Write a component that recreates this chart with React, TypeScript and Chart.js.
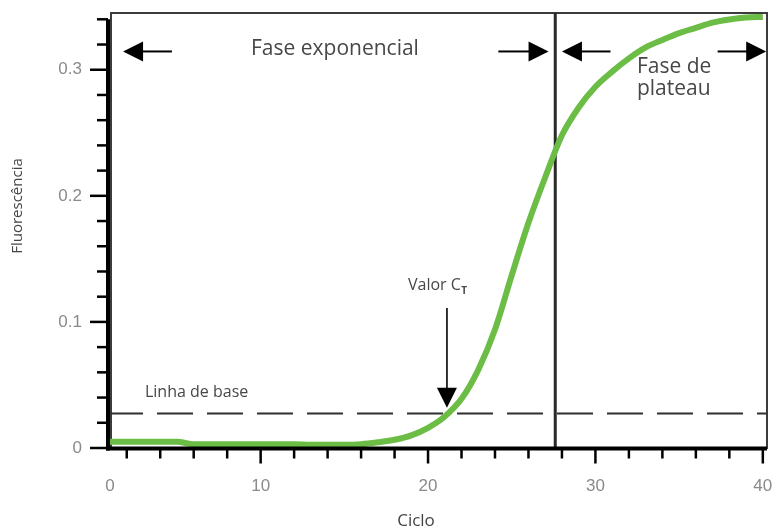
import React, { useEffect, useRef } from "react";
import { Chart, registerables } from "chart.js";

Chart.register(...registerables);

// ---- Data ----
const CYCLES = [
  1, 2, 3, 4, 5, 6, 7, 8, 9, 10, 11, 12, 13, 14, 15, 16, 17, 18, 19, 20,
  21, 22, 23, 24, 25, 26, 27, 28, 29, 30, 31, 32, 33, 34, 35, 36, 37, 38, 39, 40,
];
const FLUORESCENCE = [
  0.005, 0.005, 0.005, 0.005, 0.005, 0.003, 0.003, 0.003, 0.003, 0.003,
  0.003, 0.003, 0.0025, 0.0025, 0.0025, 0.003, 0.0045, 0.0065, 0.01, 0.016,
  0.025, 0.039, 0.062, 0.094, 0.137, 0.1786, 0.2147, 0.248, 0.27, 0.2865,
  0.2985, 0.309, 0.3177, 0.3236, 0.329, 0.3332, 0.3373, 0.3398, 0.3414, 0.3419,
];

const X_MIN = 1;
const X_MAX = 40.25;
const Y_MIN = 0;
const Y_MAX = 0.345;

const X_TICK_VALUES = [1, 10, 20, 30, 40];
const X_TICK_LABELS = ["0", "10", "20", "30", "40"];
const X_MAJOR_MARKS = [10, 20, 30, 40];
const X_MINOR_MARKS = [2, 4, 6, 8, 12, 14, 16, 18, 22, 24, 26, 28, 32, 34, 36, 38];

const Y_TICK_VALUES = [0, 0.1, 0.2, 0.3];
const Y_TICK_LABELS = ["0", "0.1", "0.2", "0.3"];
const Y_MAJOR_MARKS = [0, 0.1, 0.2, 0.3];
const Y_MINOR_MARKS = [0.02, 0.04, 0.06, 0.08, 0.12, 0.14, 0.16, 0.18, 0.22, 0.24, 0.26, 0.28, 0.32, 0.34];

const BASELINE = 0.028;
const PLATEAU_START = 27.6;
const CT_CYCLE = 21.13;
const CT_ARROW_FROM = 0.111;
const CT_ARROW_TO = 0.032;

const PHASE_ARROW_Y = 0.3145;
const EXP_LEFT_ARROW = [4.7, 1.78];
const EXP_RIGHT_ARROW = [24.2, 27.2];
const PLATEAU_LEFT_ARROW = [30.9, 28.0];
const PLATEAU_RIGHT_ARROW = [37.3, 40.2];

const LABEL_EXP = { text: "Fase exponencial", x: 14.44, y: 0.312 };
const LABEL_PLATEAU_1 = { text: "Fase de", x: 32.48, y: 0.2976 };
const LABEL_PLATEAU_2 = { text: "plateau", x: 32.48, y: 0.28 };
const LABEL_CT = { text: "Valor C", sub: "T", x: 18.8, y: 0.1254 };
const LABEL_BASE = { text: "Linha de base", x: 3.09, y: 0.0405 };

const X_TITLE = "Ciclo";
const Y_TITLE = "Fluorescência";

const TEXT_FONT = "'Open Sans', 'Noto Sans', sans-serif";
const TICK_FONT = "'Liberation Sans', Arial, sans-serif";

function drawArrow(ctx: CanvasRenderingContext2D, x1: number, y1: number, x2: number, y2: number, head = 20, half = 10, lw = 2) {
  const ang = Math.atan2(y2 - y1, x2 - x1);
  const c = Math.cos(ang);
  const s = Math.sin(ang);
  const bx = x2 - head * c;
  const by = y2 - head * s;
  ctx.beginPath();
  ctx.lineWidth = lw;
  ctx.strokeStyle = "#000";
  ctx.moveTo(x1, y1);
  ctx.lineTo(bx + 1 * c, by + 1 * s);
  ctx.stroke();
  ctx.beginPath();
  ctx.fillStyle = "#000";
  ctx.moveTo(x2, y2);
  ctx.lineTo(bx - half * s, by + half * c);
  ctx.lineTo(bx + half * s, by - half * c);
  ctx.closePath();
  ctx.fill();
}

const qpcrPlugin = {
  id: "qpcrAnnotations",
  beforeDatasetsDraw(chart: any) {
    const { ctx, chartArea: a, scales } = chart;
    const x = scales.x;
    const y = scales.y;
    ctx.save();
    // frame
    ctx.strokeStyle = "#3c3c3c";
    ctx.lineWidth = 2;
    ctx.strokeRect(a.left + 1, a.top, a.right - a.left - 1, a.bottom - a.top);
    // baseline (dashed)
    const by = Math.round(y.getPixelForValue(BASELINE)) + 0.5;
    ctx.strokeStyle = "#2f2f2f";
    ctx.lineWidth = 2;
    ctx.setLineDash([36, 14]);
    ctx.lineDashOffset = 3;
    ctx.beginPath();
    ctx.moveTo(a.left, by);
    ctx.lineTo(a.right, by);
    ctx.stroke();
    ctx.setLineDash([]);
    // plateau boundary
    const px = x.getPixelForValue(PLATEAU_START);
    ctx.strokeStyle = "#2a2a2a";
    ctx.lineWidth = 3;
    ctx.beginPath();
    ctx.moveTo(px, a.top);
    ctx.lineTo(px, a.bottom);
    ctx.stroke();
    ctx.restore();
  },
  afterDraw(chart: any) {
    const { ctx, chartArea: a, scales } = chart;
    const x = scales.x;
    const y = scales.y;
    ctx.save();
    // axis lines
    const axX = a.left - 2;
    const axY = a.bottom + 0.5;
    ctx.strokeStyle = "#000";
    ctx.lineWidth = 4;
    ctx.beginPath();
    ctx.moveTo(axX, y.getPixelForValue(0.34));
    ctx.lineTo(axX, axY + 2);
    ctx.stroke();
    ctx.beginPath();
    ctx.moveTo(axX - 2, axY);
    ctx.lineTo(a.right, axY);
    ctx.stroke();
    // y tick marks
    ctx.lineWidth = 2.5;
    for (const v of Y_MAJOR_MARKS) {
      const py = y.getPixelForValue(v);
      ctx.beginPath();
      ctx.moveTo(axX - 18, py);
      ctx.lineTo(axX, py);
      ctx.stroke();
    }
    for (const v of Y_MINOR_MARKS) {
      const py = y.getPixelForValue(v);
      ctx.beginPath();
      ctx.moveTo(axX - 11, py);
      ctx.lineTo(axX, py);
      ctx.stroke();
    }
    // x tick marks
    for (const v of X_MAJOR_MARKS) {
      const p = x.getPixelForValue(v);
      ctx.beginPath();
      ctx.moveTo(p, axY);
      ctx.lineTo(p, axY + 15);
      ctx.stroke();
    }
    for (const v of X_MINOR_MARKS) {
      const p = x.getPixelForValue(v);
      ctx.beginPath();
      ctx.moveTo(p, axY);
      ctx.lineTo(p, axY + 10);
      ctx.stroke();
    }

    // phase arrows
    const ay = y.getPixelForValue(PHASE_ARROW_Y);
    for (const [from, to] of [EXP_LEFT_ARROW, EXP_RIGHT_ARROW, PLATEAU_LEFT_ARROW, PLATEAU_RIGHT_ARROW]) {
      drawArrow(ctx, x.getPixelForValue(from), ay, x.getPixelForValue(to), ay, 20, 10, 2);
    }
    // Ct arrow
    const cx = x.getPixelForValue(CT_CYCLE);
    drawArrow(ctx, cx, y.getPixelForValue(CT_ARROW_FROM), cx, y.getPixelForValue(CT_ARROW_TO), 20, 10, 1.6);

    // texts
    ctx.fillStyle = "#474747";
    ctx.textBaseline = "alphabetic";
    ctx.font = `21px ${TEXT_FONT}`;
    ctx.textAlign = "center";
    ctx.fillText(LABEL_EXP.text, x.getPixelForValue(LABEL_EXP.x), y.getPixelForValue(LABEL_EXP.y));
    ctx.textAlign = "left";
    ctx.fillText(LABEL_PLATEAU_1.text, x.getPixelForValue(LABEL_PLATEAU_1.x), y.getPixelForValue(LABEL_PLATEAU_1.y));
    ctx.fillText(LABEL_PLATEAU_2.text, x.getPixelForValue(LABEL_PLATEAU_2.x), y.getPixelForValue(LABEL_PLATEAU_2.y));

    ctx.font = `16px ${TEXT_FONT}`;
    const vx = x.getPixelForValue(LABEL_CT.x);
    const vy = y.getPixelForValue(LABEL_CT.y);
    ctx.fillText(LABEL_CT.text, vx, vy);
    const w = ctx.measureText(LABEL_CT.text).width;
    ctx.font = `bold 10px ${TEXT_FONT}`;
    ctx.fillText(LABEL_CT.sub, vx + w + 0.5, vy + 4);

    ctx.font = `16px ${TEXT_FONT}`;
    ctx.fillText(LABEL_BASE.text, x.getPixelForValue(LABEL_BASE.x), y.getPixelForValue(LABEL_BASE.y));

    // axis titles
    ctx.fillStyle = "#444";
    ctx.font = `17px ${TEXT_FONT}`;
    ctx.textAlign = "center";
    ctx.fillText(X_TITLE, 416, 526);
    ctx.save();
    ctx.translate(18, 206);
    ctx.rotate(-Math.PI / 2);
    ctx.font = `15px ${TEXT_FONT}`;
    ctx.textBaseline = "middle";
    ctx.fillText(Y_TITLE, 0, 0);
    ctx.restore();

    ctx.restore();
  },
};

export default function App() {
  const canvasRef = useRef<HTMLCanvasElement | null>(null);

  useEffect(() => {
    const canvas = canvasRef.current;
    if (!canvas) return;
    const chart = new Chart(canvas, {
      type: "line",
      data: {
        datasets: [
          {
            data: CYCLES.map((c, i) => ({ x: c, y: FLUORESCENCE[i] })),
            borderColor: "#6bbd45",
            borderWidth: 6,
            pointRadius: 0,
            fill: false,
            cubicInterpolationMode: "monotone",
          },
        ],
      },
      options: {
        responsive: false,
        animation: false,
        devicePixelRatio: 1,
        layout: { padding: { top: 13, right: 8, left: 0, bottom: 0 } },
        plugins: { legend: { display: false }, tooltip: { enabled: false }, title: { display: false } },
        scales: {
          x: {
            type: "linear",
            min: X_MIN,
            max: X_MAX,
            afterBuildTicks: (s: any) => {
              s.ticks = X_TICK_VALUES.map((v) => ({ value: v }));
            },
            afterFit: (s: any) => {
              s.height = 81;
              s.paddingLeft = 0;
              s.paddingRight = 0;
            },
            ticks: {
              callback: (_v: any, i: number) => X_TICK_LABELS[i],
              font: { family: TICK_FONT, size: 17 },
              color: "#8a8a8a",
              padding: 28,
              maxRotation: 0,
              autoSkip: false,
            },
            grid: { display: false, drawTicks: false },
            border: { display: false },
          },
          y: {
            type: "linear",
            min: Y_MIN,
            max: Y_MAX,
            afterBuildTicks: (s: any) => {
              s.ticks = Y_TICK_VALUES.map((v) => ({ value: v }));
            },
            afterFit: (s: any) => {
              s.width = 110;
              s.paddingTop = 0;
              s.paddingBottom = 0;
            },
            ticks: {
              callback: (_v: any, i: number) => Y_TICK_LABELS[i],
              font: { family: TICK_FONT, size: 17 },
              color: "#8a8a8a",
              padding: 28,
              autoSkip: false,
            },
            grid: { display: false, drawTicks: false },
            border: { display: false },
          },
        },
      },
      plugins: [qpcrPlugin],
    });
    return () => chart.destroy();
  }, []);

  return (
    <div style={{ position: "fixed", left: 0, top: 0, width: 775, height: 529, background: "#fff" }}>
      <canvas ref={canvasRef} width={775} height={529} />
    </div>
  );
}
